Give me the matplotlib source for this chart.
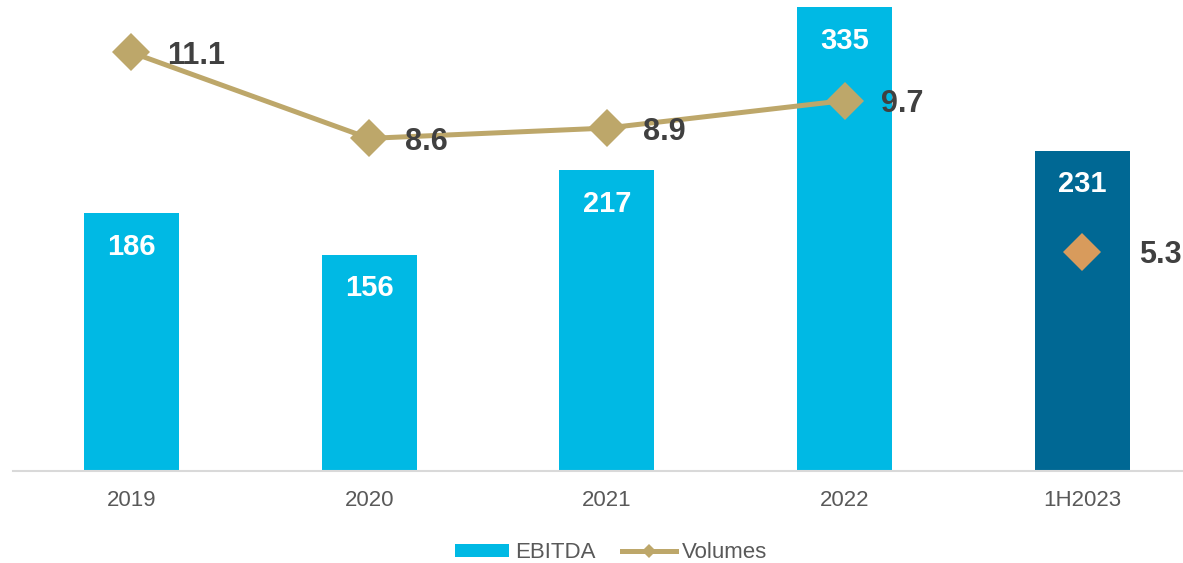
import matplotlib
matplotlib.use("Agg")
import matplotlib.pyplot as plt
from matplotlib.patches import Patch
from matplotlib.lines import Line2D

categories = ["2019", "2020", "2021", "2022", "1H2023"]
ebitda = [186, 156, 217, 335, 231]
volumes = [11.1, 8.6, 8.9, 9.7]
volumes_h1 = [5.3]

LIGHT = "#00B9E4"
DARK = "#006894"
GOLD = "#BDA76A"
ORANGE = "#D89B5C"
LABEL = "#404040"
TICK = "#595959"

plt.rcParams['font.family'] = ['Liberation Sans', 'DejaVu Sans']

fig = plt.figure(figsize=(11.83, 5.63), dpi=100)
ax = fig.add_axes([13/1183, 92.5/563, 1170/1183, 465.5/563])
ax2 = ax.twinx()

x = list(range(len(categories)))
colors = [LIGHT] * 4 + [DARK]
bars = ax.bar(x, ebitda, width=0.40, color=colors, zorder=2)
for xi, v in zip(x, ebitda):
    ax.annotate(f"{v}", (xi, v), xytext=(0, -24), textcoords="offset points",
                ha="center", va="center", color="white", fontsize=21, fontweight="bold")

ax.set_xlim(-0.498, 4.423)
ax.set_ylim(0, 336.7)
ax2.set_ylim(-1.062, 12.48)

xl = x[:len(volumes)]
ax2.plot(xl, volumes, color=GOLD, lw=3.6, marker="D", markersize=19.5,
         markeredgewidth=0, zorder=3, clip_on=False)
for xi, v in zip(xl, volumes):
    ax2.annotate(f"{v}", (xi, v), xytext=(26, -2.5), textcoords="offset points",
                 ha="left", va="center", color=LABEL, fontsize=22, fontweight="bold")
xh = x[len(volumes):]
ax2.plot(xh, volumes_h1, linestyle="none", marker="D", markersize=19.5,
         color=ORANGE, markeredgewidth=0, zorder=3)
for xi, v in zip(xh, volumes_h1):
    ax2.annotate(f"{v}", (xi, v), xytext=(41, -2.5), textcoords="offset points",
                 ha="left", va="center", color=LABEL, fontsize=22, fontweight="bold")

ax.set_xticks(x)
ax.set_xticklabels(categories, fontsize=16, color=TICK)
ax.tick_params(axis="x", length=0, pad=14)
ax.set_yticks([])
ax2.set_yticks([])
for a in (ax, ax2):
    for s in ("top", "left", "right", "bottom"):
        a.spines[s].set_visible(False)
ax.spines["bottom"].set_visible(True)
ax.spines["bottom"].set_color("#D9D9D9")
ax.spines["bottom"].set_linewidth(1.5)
ax.set_zorder(1)
ax2.set_zorder(2)
ax.patch.set_visible(False)
ax2.patch.set_visible(False)

handles = [Patch(facecolor=LIGHT, edgecolor="none"),
           Line2D([], [], color=GOLD, lw=3.6, marker="D", markersize=7, markeredgewidth=0)]
fig.legend(handles, ["EBITDA", "Volumes"], loc="center",
           bbox_to_anchor=(611/1183, 1 - 553/563), ncol=2, frameon=False,
           fontsize=16, labelcolor=TICK, handlelength=2.45, handleheight=0.5,
           handletextpad=0.25, columnspacing=1.2)

fig.savefig("out.png", dpi=100)
